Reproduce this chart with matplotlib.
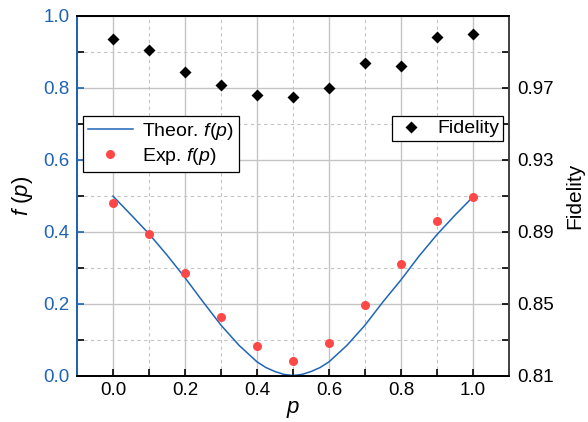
import matplotlib
matplotlib.use("Agg")
import matplotlib.pyplot as plt
from matplotlib.ticker import MultipleLocator, FixedLocator, FormatStrFormatter

plt.rcParams['font.family'] = ['Liberation Sans', 'DejaVu Sans']
plt.rcParams['mathtext.fontset'] = 'custom'
plt.rcParams['mathtext.rm'] = 'Liberation Sans'
plt.rcParams['mathtext.it'] = 'Liberation Sans:italic'

# Data
p_exp = [0.0, 0.1, 0.2, 0.3, 0.4, 0.5, 0.6, 0.7, 0.8, 0.9, 1.0]
f_exp = [0.481, 0.393, 0.286, 0.162, 0.082, 0.041, 0.090, 0.195, 0.311, 0.431, 0.496]
fidelity = [0.997, 0.991, 0.979, 0.9715, 0.966, 0.965, 0.9698, 0.9837, 0.9824, 0.9982, 0.9998]

p_theor = [0.0, 0.05, 0.1, 0.15, 0.2, 0.25, 0.3, 0.35, 0.4, 0.425, 0.45, 0.475, 0.5,
           0.525, 0.55, 0.575, 0.6, 0.65, 0.7, 0.75, 0.8, 0.85, 0.9, 0.95, 1.0]
f_theor = [0.499, 0.447, 0.394, 0.335, 0.272, 0.205, 0.140, 0.084, 0.038, 0.022, 0.011, 0.003, 0.0,
           0.003, 0.011, 0.022, 0.038, 0.084, 0.140, 0.205, 0.266, 0.332, 0.392, 0.446, 0.497]

x_major = [0.0, 0.2, 0.4, 0.6, 0.8, 1.0]
right_ticks = [0.81, 0.85, 0.89, 0.93, 0.97]
right_minor = [0.83, 0.87, 0.91, 0.95, 0.99]

blue_axis = '#1f63b5'
line_blue = '#1f66b8'
red = '#ff4747'

fig = plt.figure(figsize=(5.88, 4.22), dpi=100)
ax = fig.add_axes([77/588, 1-375.5/422, 432/588, 359.5/422])
ax2 = ax.twinx()

ax.plot(p_theor, f_theor, color=line_blue, lw=1.1, label=r'Theor. $f$($p$)', zorder=3)
ax.plot(p_exp, f_exp, 'o', color=red, ms=6.5, mec='none', label=r'Exp. $f$($p$)', zorder=4)
ax2.plot(p_exp, fidelity, 'D', color='black', ms=6, mec='none', label='Fidelity', zorder=4)

ax.set_xlim(-0.1, 1.1)
ax.set_ylim(0.0, 1.0)
ax2.set_ylim(0.81, 1.01)

ax.xaxis.set_major_locator(FixedLocator(x_major))
ax.xaxis.set_minor_locator(MultipleLocator(0.1))
ax.yaxis.set_major_locator(MultipleLocator(0.2))
ax.yaxis.set_minor_locator(MultipleLocator(0.1))
ax2.yaxis.set_major_locator(FixedLocator(right_ticks))
ax2.yaxis.set_minor_locator(FixedLocator(right_minor))

ax.grid(which='major', color='#c4c4c4', lw=1.0, ls='-')
ax.grid(which='minor', color='#c4c4c4', lw=0.8, ls=(0, (3, 3)))
ax.set_axisbelow(True)

ax.tick_params(axis='both', which='both', direction='in', length=5, width=1.2, labelsize=13.5)
ax.tick_params(axis='x', pad=5, colors='black')
ax.tick_params(axis='y', colors=blue_axis, pad=5.5)
ax2.tick_params(axis='y', which='both', direction='in', length=5, width=1.2, labelsize=13.5,
                colors='black', pad=6)
ax.xaxis.set_major_formatter(FormatStrFormatter('%.1f'))
ax.yaxis.set_major_formatter(FormatStrFormatter('%.1f'))
ax2.yaxis.set_major_formatter(FormatStrFormatter('%.2f'))

for a in (ax, ax2):
    for s in a.spines.values():
        s.set_linewidth(1.3)
ax2.spines['left'].set_color(blue_axis)
ax.spines['left'].set_color(blue_axis)
ax2.spines['right'].set_color('#444444')
ax.spines['right'].set_color('#444444')

ax.set_xlabel(r'$p$', fontsize=16, labelpad=0)
ax.set_ylabel(r'$f$ ($p$)', fontsize=16, labelpad=6)
ax2.set_ylabel('Fidelity', fontsize=15, labelpad=8)

leg1 = ax.legend(loc='upper left', bbox_to_anchor=(0.014, 0.722), fontsize=14,
                 frameon=True, fancybox=False, edgecolor='black', framealpha=1,
                 borderpad=0.25, handlelength=2.3, handletextpad=0.5, labelspacing=0.2,
                 borderaxespad=0)
leg1.get_frame().set_linewidth(0.9)
leg2 = ax2.legend(loc='upper right', bbox_to_anchor=(0.986, 0.722), fontsize=14,
                  frameon=True, fancybox=False, edgecolor='black', framealpha=1,
                  borderpad=0.2, handlelength=1.5, handletextpad=0.6, borderaxespad=0)
leg2.get_frame().set_linewidth(0.9)

fig.savefig('out.png', dpi=100)
